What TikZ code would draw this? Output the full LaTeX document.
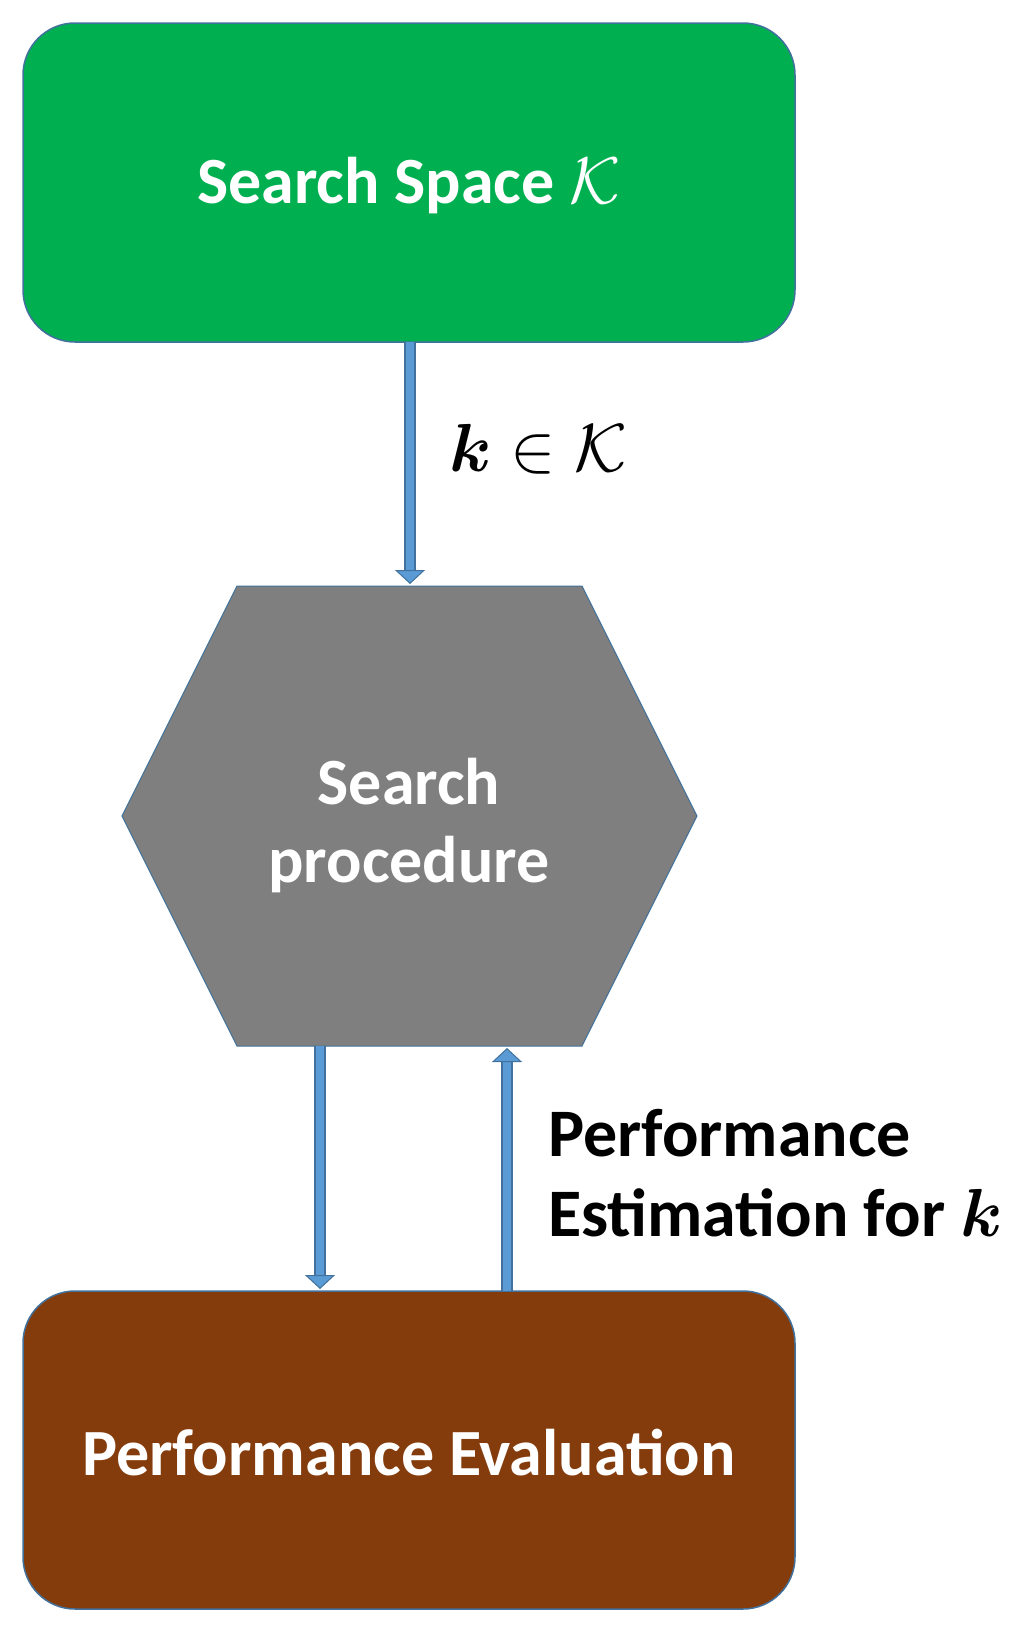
\RequirePackage{fix-cm}
\documentclass[tikz,border=0pt]{standalone}
\usepackage{amsmath,amssymb}
\usepackage{fontspec}
\setmainfont{Carlito}
\usetikzlibrary{arrows.meta}
\definecolor{gr}{HTML}{00B050}
\definecolor{br}{HTML}{843C0C}
\definecolor{hx}{HTML}{7F7F7F}
\definecolor{edgec}{HTML}{41719C}
\definecolor{ab}{HTML}{5B9BD5}
\begin{document}
\begin{tikzpicture}[x=1pt,y=-1pt,
  box/.style={draw=edgec,line width=1.5pt,rounded corners=52pt},
  lbl/.style={font=\fontsize{66}{78}\selectfont\bfseries,text=white,align=center},
  side/.style={font=\fontsize{68}{80}\selectfont\bfseries,anchor=base west,inner sep=0pt},
  arr/.style={draw=edgec,line width=2pt,double=ab,double distance=8pt,shorten >=2pt,
    -{Triangle[width=30pt,length=14pt,fill=ab,color=edgec,line width=1pt]}}]
\useasboundingbox (0,0) rectangle (1017,1647);
\filldraw[box,fill=gr] (23,23) rectangle (795,342);
\node[lbl] (ss) at (409,186) {Search Space $\mathcal{K}$};
\filldraw[box,fill=br] (23,1291) rectangle (795,1609);
\node[lbl] (pe) at (409,1453) {Performance Evaluation};
\filldraw[draw=edgec,line width=1pt,fill=hx] (237,586) -- (582,586) -- (697,816) -- (582,1046) -- (237,1046) -- (122,816) -- cycle;
\node[lbl] (sp) at (409,826) {Search\\procedure};
\coordinate (a1) at (410,342); \coordinate (a2) at (410,586);
\coordinate (b1) at (320,1046); \coordinate (b2) at (320,1291);
\coordinate (c1) at (507,1291); \coordinate (c2) at (507,1046);
\draw[arr] (a1) -- (a2);
\draw[arr] (b1) -- (b2);
\draw[arr] (c1) -- (c2);
\node[font=\fontsize{68}{80}\selectfont,anchor=base west,inner sep=0pt] (kl) at (449,471) {$\boldsymbol{k}\in\mathcal{K}$};
\node[side] (pl1) at (548,1156) {Performance};
\node[side] (pl2) at (548,1236) {Estimation for $\boldsymbol{k}$};
\end{tikzpicture}
\end{document}
